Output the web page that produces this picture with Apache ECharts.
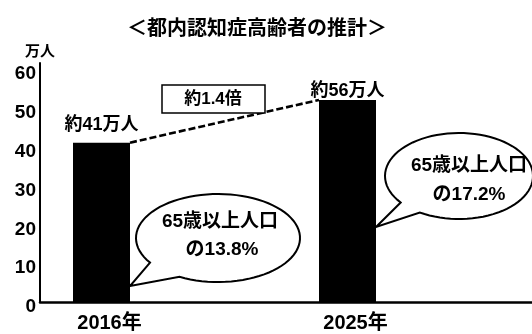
<!DOCTYPE html>
<html><head><meta charset="utf-8">
<script src="https://cdn.jsdelivr.net/npm/echarts@6/dist/echarts.min.js"></script>
<style>html,body{margin:0;padding:0;background:#fff}#c{width:532px;height:334px}</style>
</head><body><div id="c"></div>
<script>
// ---- data ----
const categories = ['2016年', '', '2025年', ''];
const barValues = [41, null, 52, null];           // bar heights as drawn
const barLabels = ['約41万人', '', '約56万人', ''];
const labelGaps = [9, 12, 0, 0];
const yMin = 0, yMax = 61.5, yStep = 10;
const titleText = '＜都内認知症高齢者の推計＞';
const unitText = '万人';
const ratioText = '約1.4倍';
const bubbleLines = [['65歳以上人口', 'の13.8%'], ['65歳以上人口', 'の17.2%']];
const bubbleAnchorValues = [4.1, 19.3];

const FONT = '"Liberation Sans", "Noto Sans CJK JP", sans-serif';
const chart = echarts.init(document.getElementById('c'), null, {renderer: 'canvas'});

const option = {
  animation: false,
  backgroundColor: '#fff',
  grid: {left: 40, right: -6, top: 63, bottom: 32, containLabel: false},
  xAxis: {
    type: 'category', data: categories,
    axisLine: {lineStyle: {color: '#000', width: 2.5}},
    axisTick: {show: false},
    axisLabel: {color: '#000', fontSize: 20, fontWeight: 'bold', fontFamily: FONT,
      margin: 11, padding: [0, 0, 0, 16], align: 'center'}
  },
  yAxis: {
    type: 'value', min: yMin, max: yMax, interval: yStep,
    axisLine: {show: true, lineStyle: {color: '#000', width: 2}},
    axisTick: {show: false}, splitLine: {show: false},
    axisLabel: {color: '#000', fontSize: 19, fontWeight: 'bold', fontFamily: FONT,
      margin: 4, verticalAlign: 'top', lineHeight: 10, showMaxLabel: false}
  },
  series: [{
    type: 'bar', barWidth: 57,
    itemStyle: {color: '#000'},
    data: barValues.map((v, i) => ({value: v, label: {distance: labelGaps[i]}})),
    label: {show: true, position: 'top', color: '#000', fontSize: 18, fontWeight: 'bold',
      fontFamily: FONT, formatter: p => barLabels[p.dataIndex]}
  }]
};
chart.setOption(option);

// ---- annotations anchored to the bars ----
const barW = 57;
const top0 = chart.convertToPixel({seriesIndex: 0}, [0, barValues[0]]);
const top1 = chart.convertToPixel({seriesIndex: 0}, [2, barValues[2]]);
const tip0 = chart.convertToPixel({seriesIndex: 0}, [0, bubbleAnchorValues[0]]);
const tip1 = chart.convertToPixel({seriesIndex: 0}, [2, bubbleAnchorValues[1]]);

function bubble(cx, cy, rx, ry, aGapStart, aGapEnd, tip) {
  const pts = [];
  const s = aGapEnd, e = aGapStart + 360;
  const n = 80;
  for (let k = 0; k <= n; k++) {
    const a = (s + (e - s) * k / n) * Math.PI / 180;
    pts.push([cx + rx * Math.cos(a), cy + ry * Math.sin(a)]);
  }
  pts.push(tip);
  return {type: 'polygon', z: 100, shape: {points: pts},
    style: {fill: '#fff', stroke: '#000', lineWidth: 2}};
}
function txt(t, x, y, size) {
  return {type: 'text', z: 101, x: x, y: y,
    style: {text: t, font: 'bold ' + size + 'px ' + FONT, fill: '#000',
      align: 'center', verticalAlign: 'middle'}};
}

chart.setOption({
  graphic: [
    txt(titleText, 257, 29, 20),
    txt(unitText, 40, 52, 15),
    {type: 'line', z: 100, shape: {x1: top0[0] + barW / 2, y1: top0[1], x2: top1[0] - barW / 2, y2: top1[1]},
      style: {stroke: '#000', lineWidth: 2.6, lineDash: [7, 3]}},
    {type: 'rect', z: 100, shape: {x: 162, y: 85, width: 103, height: 28},
      style: {fill: '#fff', stroke: '#000', lineWidth: 1.5}},
    txt(ratioText, 213, 99.5, 17),
    bubble(218, 238, 82, 44, 118, 146, [tip0[0] + barW / 2, tip0[1]]),
    txt(bubbleLines[0][0], 220, 222, 19),
    txt(bubbleLines[0][1], 222, 250, 19),
    bubble(459, 176, 74, 43, 122, 142, [tip1[0] + barW / 2, tip1[1]]),
    txt(bubbleLines[1][0], 469, 166, 19),
    txt(bubbleLines[1][1], 469, 195, 19)
  ]
});
</script>
</body></html>
